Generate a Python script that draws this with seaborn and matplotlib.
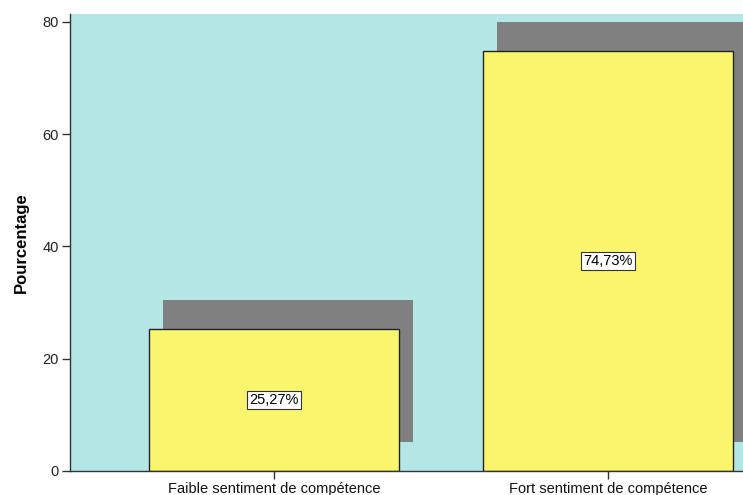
import matplotlib
matplotlib.use("Agg")
import matplotlib.pyplot as plt
import seaborn as sns
import pandas as pd
import numpy as np

categories = ["Faible sentiment de compétence", "Fort sentiment de compétence"]
values = [25.27, 74.73]
labels = ["25,27%", "74,73%"]
y_ticks = [0, 20, 40, 60, 80]

sns.set_theme(style="white")
plt.rcParams['font.family'] = ['Liberation Sans', 'DejaVu Sans']

df = pd.DataFrame({"cat": categories, "val": values})

fig = plt.figure(figsize=(7.43, 4.95), dpi=100)
ax = fig.add_axes([70/743, 24/495, 1 - 70/743, (471-14)/495])
ax.set_facecolor("#b4e6e6")

# shadows
x = np.arange(len(values))
ax.bar(x + 0.042, values, width=0.75, bottom=5.2, color="#808080", linewidth=0, zorder=1)

sns.barplot(data=df, x="cat", y="val", ax=ax, color="#f9f66e", width=0.75,
            edgecolor="#222222", linewidth=1.0, saturation=1, zorder=2)

for i, (v, lab) in enumerate(zip(values, labels)):
    ax.text(i, v / 2, lab, ha="center", va="center", fontsize=10.5, color="black", zorder=3,
            bbox=dict(boxstyle="square,pad=0.15", facecolor="white", edgecolor="#333333", linewidth=0.8))

ax.set_xlim(-0.611, 1.404)
ax.set_ylim(0, 81.4)
ax.set_yticks(y_ticks)
ax.set_yticklabels([str(t) for t in y_ticks], fontsize=10.5, color="#222222")
ax.set_xticks(x)
ax.set_xticklabels(categories, fontsize=10.5, color="#111111")
ax.set_xlabel("")
ax.set_ylabel("Pourcentage", fontsize=12, fontweight="bold", color="black", labelpad=10)
ax.tick_params(axis="y", which="both", direction="out", length=6, width=1, color="#333333",
               left=True, pad=2)
ax.tick_params(axis="x", which="both", direction="out", length=6, width=1, color="#333333",
               bottom=True, pad=2)
for s in ["top", "right"]:
    ax.spines[s].set_visible(False)
for s in ["left", "bottom"]:
    ax.spines[s].set_color("#333333")
    ax.spines[s].set_linewidth(1.0)

fig.savefig("out.png", dpi=100)
